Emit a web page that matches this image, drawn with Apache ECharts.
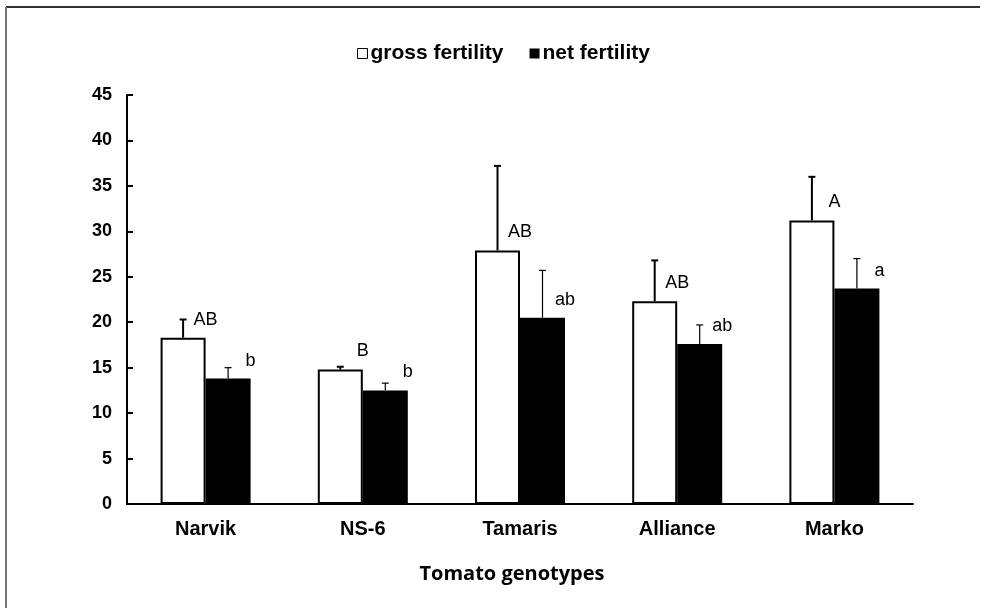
<!DOCTYPE html>
<html>
<head>
<meta charset="utf-8">
<script src="https://cdn.jsdelivr.net/npm/echarts@6/dist/echarts.min.js"></script>
<style>html,body{margin:0;padding:0;background:#fff}#c{width:989px;height:608px}</style>
</head>
<body>
<div id="c"></div>
<script>
var categories = ['Narvik', 'NS-6', 'Tamaris', 'Alliance', 'Marko'];
var grossMean = [18.3, 14.8, 27.9, 22.3, 31.2];
var grossErr = [2.0, 0.3, 9.3, 4.5, 4.8];
var netMean = [13.8, 12.5, 20.5, 17.6, 23.7];
var netErr = [1.2, 0.8, 5.2, 2.1, 3.3];
var grossLetters = ['AB', 'B', 'AB', 'AB', 'A'];
var netLetters = ['b', 'b', 'ab', 'ab', 'a'];
var yTicks = [0, 5, 10, 15, 20, 25, 30, 35, 40, 45];

var BAR_W = 45;
var FONT = 'Liberation Sans, Arial, sans-serif';
var chart = echarts.init(document.getElementById('c'), null, {renderer: 'canvas'});

function errSeries(name, means, errs, offset, lw, capW) {
  return {
    type: 'custom',
    name: name + '_err',
    z: 5,
    silent: true,
    data: means.map(function (m, i) { return [i, m, m + errs[i]]; }),
    renderItem: function (params, api) {
      var base = api.coord([api.value(0), api.value(1)]);
      var top = api.coord([api.value(0), api.value(2)]);
      var x = base[0] + offset;
      return {
        type: 'group',
        children: [
          {type: 'line', shape: {x1: x, y1: base[1], x2: x, y2: top[1]}, style: {stroke: '#000', lineWidth: lw}},
          {type: 'line', shape: {x1: x - capW / 2, y1: top[1], x2: x + capW / 2, y2: top[1]}, style: {stroke: '#000', lineWidth: lw}}
        ]
      };
    }
  };
}

function letterLabel(letters) {
  return {
    show: true,
    position: [BAR_W, -18],
    align: 'center',
    verticalAlign: 'middle',
    fontFamily: FONT,
    fontSize: 18,
    color: '#000',
    formatter: function (p) { return letters[p.dataIndex]; }
  };
}

var option = {
  animation: false,
  backgroundColor: '#fff',
  grid: {left: 127, right: 76, top: 95, bottom: 104, containLabel: false},
  legend: {
    top: 38,
    left: 352,
    itemWidth: 10,
    itemHeight: 10,
    itemGap: 26,
    selectedMode: false,
    textStyle: {fontFamily: FONT, fontWeight: 'bold', fontSize: 21, color: '#000', padding: [0, 0, 0, -2]},
    data: [
      {name: 'gross fertility', icon: 'rect', itemStyle: {color: '#fff', borderColor: '#000', borderWidth: 1}},
      {name: 'net fertility', icon: 'rect', itemStyle: {color: '#000'}}
    ]
  },
  xAxis: {
    type: 'category',
    data: categories,
    name: 'Tomato genotypes',
    nameLocation: 'middle',
    nameGap: 60,
    nameTextStyle: {fontFamily: 'Open Sans, sans-serif', fontWeight: 'bold', fontSize: 20, color: '#000', padding: [0, 16, 0, 0]},
    axisLine: {lineStyle: {color: '#000', width: 2}},
    axisTick: {inside: true, length: 6, lineStyle: {color: '#000', width: 2}},
    axisLabel: {margin: 15, fontFamily: FONT, fontWeight: 'bold', fontSize: 20, color: '#000'}
  },
  yAxis: {
    type: 'value',
    min: yTicks[0],
    max: yTicks[yTicks.length - 1],
    interval: 5,
    splitLine: {show: false},
    axisLine: {show: true, lineStyle: {color: '#000', width: 2}},
    axisTick: {show: true, inside: true, length: 6, lineStyle: {color: '#000', width: 2}},
    axisLabel: {margin: 15, fontFamily: FONT, fontWeight: 'bold', fontSize: 18, color: '#000'}
  },
  series: [
    {
      name: 'gross fertility',
      type: 'bar',
      data: grossMean,
      barWidth: BAR_W,
      barGap: '0%',
      itemStyle: {color: '#fff', borderColor: '#000', borderWidth: 2},
      label: letterLabel(grossLetters)
    },
    {
      name: 'net fertility',
      type: 'bar',
      data: netMean,
      barWidth: BAR_W,
      barGap: '0%',
      itemStyle: {color: '#000'},
      label: letterLabel(netLetters)
    },
    errSeries('gross fertility', grossMean, grossErr, -BAR_W / 2, 2, 7),
    errSeries('net fertility', netMean, netErr, BAR_W / 2, 1.2, 7)
  ],
  graphic: [
    {type: 'line', shape: {x1: 6, y1: 7, x2: 980, y2: 7}, style: {stroke: '#333', lineWidth: 2}},
    {type: 'line', shape: {x1: 6, y1: 7, x2: 6, y2: 608}, style: {stroke: '#777', lineWidth: 2}}
  ]
};
chart.setOption(option);
</script>
</body>
</html>
